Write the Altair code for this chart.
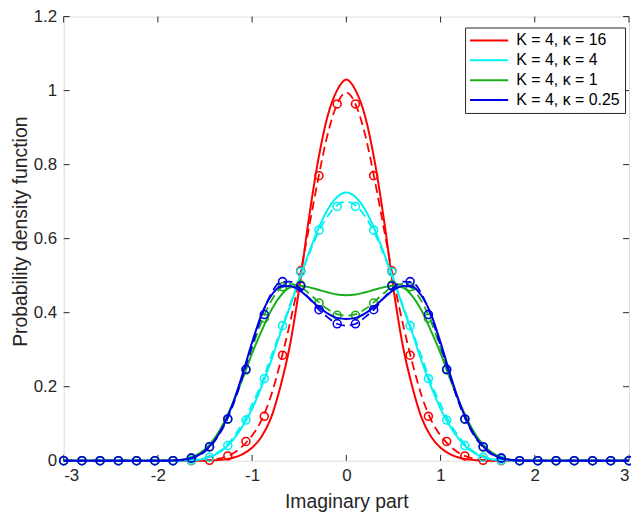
import altair as alt
import pandas as pd

# ---------------- data ----------------
series_names = ["K = 4, κ = 16", "K = 4, κ = 4", "K = 4, κ = 1", "K = 4, κ = 0.25"]
series_colors = ["#ff0000", "#00f2f2", "#1aaf1a", "#0000e6"]

x_curve = [-3.0, -2.5, -2.0, -1.9, -1.8, -1.7, -1.6, -1.5, -1.4, -1.3, -1.2, -1.1, -1.0,
           -0.9, -0.8, -0.7, -0.6, -0.5, -0.4, -0.3, -0.2, -0.1, 0.0, 0.1, 0.2, 0.3, 0.4,
           0.5, 0.6, 0.7, 0.8, 0.9, 1.0, 1.1, 1.2, 1.3, 1.4, 1.5, 1.6, 1.7, 1.8, 1.9, 2.0,
           2.5, 3.0]

red_solid = [0, 0, 0, 0, 0, 0, 0, 0, 0.001, 0.003, 0.008, 0.018, 0.035, 0.065, 0.115, 0.20,
             0.31, 0.465, 0.65, 0.81, 0.93, 1.00, 1.03, 1.00, 0.93, 0.81, 0.65, 0.465, 0.31,
             0.20, 0.115, 0.065, 0.035, 0.018, 0.008, 0.003, 0.001, 0, 0, 0, 0, 0, 0, 0, 0]
red_dashed = [0, 0, 0, 0, 0, 0, 0, 0.001, 0.003, 0.009, 0.02, 0.04, 0.068, 0.11, 0.175, 0.265,
              0.37, 0.49, 0.625, 0.76, 0.88, 0.962, 0.995, 0.962, 0.88, 0.76, 0.625, 0.49, 0.37,
              0.265, 0.175, 0.11, 0.068, 0.04, 0.02, 0.009, 0.003, 0.001, 0, 0, 0, 0, 0, 0, 0]
cyan_solid = [0, 0, 0, 0, 0, 0.001, 0.002, 0.006, 0.015, 0.031, 0.057, 0.093, 0.14, 0.2, 0.268,
              0.345, 0.415, 0.49, 0.56, 0.625, 0.678, 0.712, 0.725, 0.712, 0.678, 0.625, 0.56,
              0.49, 0.415, 0.345, 0.268, 0.2, 0.14, 0.093, 0.057, 0.031, 0.015, 0.006, 0.002,
              0.001, 0, 0, 0, 0, 0]
cyan_dashed = [0, 0, 0, 0, 0, 0.001, 0.003, 0.007, 0.017, 0.035, 0.063, 0.102, 0.152, 0.21, 0.28,
               0.35, 0.42, 0.49, 0.555, 0.615, 0.66, 0.69, 0.70, 0.69, 0.66, 0.615, 0.555, 0.49,
               0.42, 0.35, 0.28, 0.21, 0.152, 0.102, 0.063, 0.035, 0.017, 0.007, 0.003, 0.001,
               0, 0, 0, 0, 0]
green_solid = [0, 0, 0, 0, 0.001, 0.005, 0.014, 0.031, 0.06, 0.103, 0.158, 0.222, 0.29, 0.35,
               0.405, 0.445, 0.468, 0.473, 0.469, 0.462, 0.455, 0.449, 0.447, 0.449, 0.455, 0.462,
               0.469, 0.473, 0.468, 0.445, 0.405, 0.35, 0.29, 0.222, 0.158, 0.103, 0.06, 0.031,
               0.014, 0.005, 0.001, 0, 0, 0, 0]
green_dashed = [0, 0, 0, 0, 0.001, 0.004, 0.011, 0.027, 0.055, 0.097, 0.155, 0.228, 0.305, 0.375,
                0.43, 0.466, 0.478, 0.472, 0.453, 0.43, 0.41, 0.396, 0.392, 0.396, 0.41, 0.43,
                0.453, 0.472, 0.478, 0.466, 0.43, 0.375, 0.305, 0.228, 0.155, 0.097, 0.055, 0.027,
                0.011, 0.004, 0.001, 0, 0, 0, 0]
blue_solid = [0, 0, 0, 0, 0.001, 0.004, 0.011, 0.027, 0.054, 0.097, 0.158, 0.235, 0.32, 0.395,
              0.445, 0.47, 0.472, 0.461, 0.44, 0.417, 0.398, 0.386, 0.383, 0.386, 0.398, 0.417,
              0.44, 0.461, 0.472, 0.47, 0.445, 0.395, 0.32, 0.235, 0.158, 0.097, 0.054, 0.027,
              0.011, 0.004, 0.001, 0, 0, 0, 0]
blue_dashed = [0, 0, 0, 0, 0.001, 0.003, 0.01, 0.025, 0.052, 0.093, 0.152, 0.228, 0.31, 0.39,
               0.45, 0.482, 0.484, 0.468, 0.44, 0.41, 0.388, 0.37, 0.365, 0.37, 0.388, 0.41,
               0.44, 0.468, 0.484, 0.482, 0.45, 0.39, 0.31, 0.228, 0.152, 0.093, 0.052, 0.025,
               0.01, 0.003, 0.001, 0, 0, 0, 0]

x_mark = [-3.0, -2.806, -2.613, -2.419, -2.226, -2.032, -1.839, -1.645, -1.452, -1.258, -1.065,
          -0.871, -0.677, -0.484, -0.290, -0.097, 0.097, 0.290, 0.484, 0.677, 0.871, 1.065,
          1.258, 1.452, 1.645, 1.839, 2.032, 2.226, 2.419, 2.613, 2.806, 3.0]
red_mark = [0, 0, 0, 0, 0, 0, 0, 0, 0.001, 0.013, 0.052, 0.12, 0.285, 0.513, 0.77, 0.964,
            0.964, 0.77, 0.513, 0.285, 0.12, 0.052, 0.013, 0.001, 0, 0, 0, 0, 0, 0, 0, 0]
cyan_mark = [0, 0, 0, 0, 0, 0, 0, 0.001, 0.009, 0.041, 0.11, 0.222, 0.365, 0.51, 0.623, 0.687,
             0.687, 0.623, 0.51, 0.365, 0.222, 0.11, 0.041, 0.009, 0.001, 0, 0, 0, 0, 0, 0, 0]
green_mark = [0, 0, 0, 0, 0, 0, 0, 0.007, 0.037, 0.112, 0.245, 0.385, 0.47, 0.475, 0.426, 0.393,
              0.393, 0.426, 0.475, 0.47, 0.385, 0.245, 0.112, 0.037, 0.007, 0, 0, 0, 0, 0, 0, 0]
blue_mark = [0, 0, 0, 0, 0, 0, 0, 0.007, 0.038, 0.113, 0.247, 0.395, 0.484, 0.472, 0.408, 0.37,
             0.37, 0.408, 0.472, 0.484, 0.395, 0.247, 0.113, 0.038, 0.007, 0, 0, 0, 0, 0, 0, 0]

x_ticks = [-3, -2, -1, 0, 1, 2, 3]
y_ticks = [0, 0.2, 0.4, 0.6, 0.8, 1, 1.2]

# ---------------- tables ----------------
solids = [red_solid, cyan_solid, green_solid, blue_solid]
dasheds = [red_dashed, cyan_dashed, green_dashed, blue_dashed]
markers = [red_mark, cyan_mark, green_mark, blue_mark]

line_rows = []
mark_rows = []
for name, s, d, m in zip(series_names, solids, dasheds, markers):
    for xv, yv in zip(x_curve, s):
        line_rows.append({"x": xv, "y": yv, "series": name, "style": "solid"})
    for xv, yv in zip(x_curve, d):
        line_rows.append({"x": xv, "y": yv, "series": name, "style": "dashed"})
    for xv, yv in zip(x_mark, m):
        mark_rows.append({"x": xv, "y": yv, "series": name})
lines_df = pd.DataFrame(line_rows)
marks_df = pd.DataFrame(mark_rows)

# inward tick marks (MATLAB style), built from the tick values
TX = 0.063   # tick length in x units
TY = 0.016   # tick length in y units
tick_rows = []
for t in x_ticks:
    tick_rows.append({"x": t, "x2": t, "y": 0.0, "y2": TY})
    tick_rows.append({"x": t, "x2": t, "y": 1.2, "y2": 1.2 - TY})
for t in y_ticks:
    tick_rows.append({"x": -3.0, "x2": -3.0 + TX, "y": t, "y2": t})
    tick_rows.append({"x": 3.0, "x2": 3.0 - TX, "y": t, "y2": t})
ticks_df = pd.DataFrame(tick_rows)

# ---------------- styling ----------------
FONT = "Liberation Sans"
AX = "#262626"

xscale = alt.Scale(domain=[-3, 3], nice=False, zero=False)
yscale = alt.Scale(domain=[0, 1.2], nice=False, zero=False)
cscale = alt.Scale(domain=series_names, range=series_colors)

xaxis = alt.Axis(title="Imaginary part", values=x_ticks, labelExpr="'' + datum.value",
                 ticks=False, domain=False, grid=False, labelFont=FONT, labelFontSize=17,
                 labelColor=AX, labelPadding=7, titleFont=FONT, titleFontSize=19.5,
                 titleFontWeight="normal", titleColor=AX, titlePadding=9)
yaxis = alt.Axis(title="Probability density function", values=y_ticks,
                 labelExpr="'' + datum.value", ticks=False, domain=False, grid=False,
                 labelFont=FONT, labelFontSize=17, labelColor=AX, labelPadding=7,
                 titleFont=FONT, titleFontSize=19.5, titleFontWeight="normal", titleColor=AX,
                 titlePadding=3, titleY=216)

# a horizontal line symbol: small nominal size keeps rows compact, the path is long
legend = alt.Legend(title=None, orient="none", legendX=404, legendY=11,
                    symbolType="M-3.2,0H3.2",
                    symbolSize=144, symbolStrokeWidth=2, symbolOffset=11.2,
                    labelFont=FONT, labelFontSize=16, labelColor="black",
                    strokeColor=AX, fillColor="white", padding=5, rowPadding=4,
                    labelOffset=19.4, cornerRadius=0)

layers = []
for i, name in enumerate(series_names):
    solid = alt.Chart(lines_df).transform_filter(
        (alt.datum.series == name) & (alt.datum.style == "solid")
    ).mark_line(strokeWidth=2, interpolate="monotone").encode(
        x=alt.X("x:Q", scale=xscale, axis=xaxis),
        y=alt.Y("y:Q", scale=yscale, axis=yaxis),
        color=alt.Color("series:N", scale=cscale, legend=legend),
    )
    dashed = alt.Chart(lines_df).transform_filter(
        (alt.datum.series == name) & (alt.datum.style == "dashed")
    ).mark_line(strokeWidth=1.8, strokeDash=[9, 5], interpolate="monotone").encode(
        x=alt.X("x:Q", scale=xscale),
        y=alt.Y("y:Q", scale=yscale),
        color=alt.Color("series:N", scale=cscale, legend=None),
    )
    pts = alt.Chart(marks_df).transform_filter(
        alt.datum.series == name
    ).mark_point(shape="circle", filled=False, size=64, strokeWidth=1.6, opacity=1).encode(
        x=alt.X("x:Q", scale=xscale),
        y=alt.Y("y:Q", scale=yscale),
        color=alt.Color("series:N", scale=cscale, legend=None),
    )
    layers += [solid, dashed, pts]

tick_layer = alt.Chart(ticks_df).mark_rule(color=AX, strokeWidth=1).encode(
    x=alt.X("x:Q", scale=xscale),
    x2="x2:Q",
    y=alt.Y("y:Q", scale=yscale),
    y2="y2:Q",
)

chart = alt.layer(tick_layer, *layers).properties(
    width=569,
    height=447,
    autosize=alt.AutoSizeParams(type="none"),
    padding={"left": 56, "top": 7, "right": 2, "bottom": 54},
).configure_view(stroke=AX, strokeWidth=1.2).configure(background="white")

chart.save("out.html", embed_options={"renderer": "svg", "actions": False})
